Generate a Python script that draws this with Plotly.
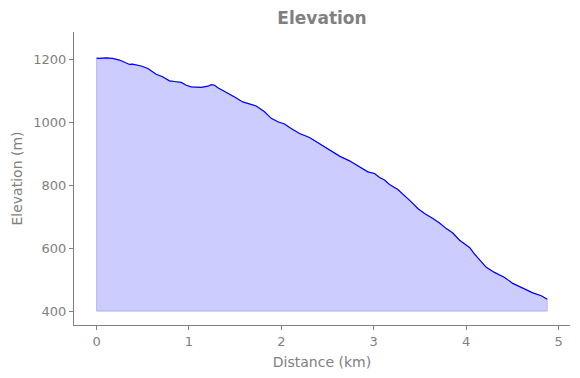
import plotly.graph_objects as go

distance_km = [0.0, 0.032, 0.105, 0.173, 0.249, 0.303, 0.357, 0.390, 0.430, 0.484,
               0.555, 0.646, 0.714, 0.790, 0.863, 0.917, 0.971, 1.025, 1.133, 1.205,
               1.241, 1.277, 1.313, 1.421, 1.494, 1.583, 1.674, 1.728, 1.818, 1.891,
               1.962, 2.035, 2.089, 2.197, 2.305, 2.413, 2.522, 2.630, 2.738, 2.846,
               2.936, 3.009, 3.063, 3.117, 3.171, 3.261, 3.333, 3.406, 3.477, 3.550,
               3.640, 3.712, 3.785, 3.856, 3.929, 3.983, 4.037, 4.091, 4.163, 4.218,
               4.307, 4.416, 4.505, 4.614, 4.722, 4.813, 4.878]
elevation_m = [1203, 1202, 1204, 1202, 1197, 1190, 1183, 1184, 1181, 1178,
               1170, 1152, 1144, 1131, 1128, 1126, 1117, 1112, 1110, 1114,
               1119, 1117, 1109, 1093, 1080, 1064, 1057, 1051, 1033, 1012,
               1001, 994, 983, 964, 951, 932, 913, 892, 877, 858,
               842, 837, 824, 816, 802, 786, 768, 747, 726, 710,
               694, 680, 662, 648, 625, 613, 602, 581, 556, 539,
               523, 507, 488, 472, 458, 449, 438]
baseline_m = 400

x_ticks = [0, 1, 2, 3, 4, 5]
y_ticks = [400, 600, 800, 1000, 1200]

gray = "#808080"

# page body has an 8px margin, so the figure is sized/offset to compensate
W, H = 572, 370

poly_x = [distance_km[0]] + distance_km + [distance_km[-1], distance_km[0]]
poly_y = [baseline_m] + elevation_m + [baseline_m, baseline_m]

fig = go.Figure()
fig.add_trace(go.Scatter(x=poly_x, y=poly_y, mode="lines", fill="toself",
                         fillcolor="rgba(0,0,255,0.2)",
                         line=dict(color="rgba(0,0,255,0.2)", width=1),
                         hoverinfo="skip", showlegend=False))
fig.add_trace(go.Scatter(x=distance_km, y=elevation_m, mode="lines",
                         line=dict(color="blue", width=1.2), showlegend=False))

axis_common = dict(showline=True, linecolor=gray, linewidth=1, ticks="outside",
                   ticklen=4, tickcolor=gray, tickwidth=1, showgrid=False,
                   zeroline=False, mirror=False, automargin=False,
                   tickfont=dict(family="DejaVu Sans", size=13, color=gray),
                   title_font=dict(family="DejaVu Sans", size=14, color=gray))

fig.update_layout(
    width=W, height=H,
    margin=dict(l=66, r=10, t=24, b=53, autoexpand=False),
    paper_bgcolor="white", plot_bgcolor="white",
    title=dict(text="<b>Elevation</b>", x=314 / W, xanchor="center",
               y=1 - 10 / H, yanchor="middle",
               font=dict(family="DejaVu Sans", size=17, color=gray)),
    xaxis=dict(range=[-0.244, 5.124], tickvals=x_ticks,
               title=dict(text="Distance (km)", standoff=9), **axis_common),
    yaxis=dict(range=[356, 1286], tickvals=y_ticks,
               title=dict(text="Elevation (m)", standoff=7), **axis_common),
)

fig.write_html("out.html")
